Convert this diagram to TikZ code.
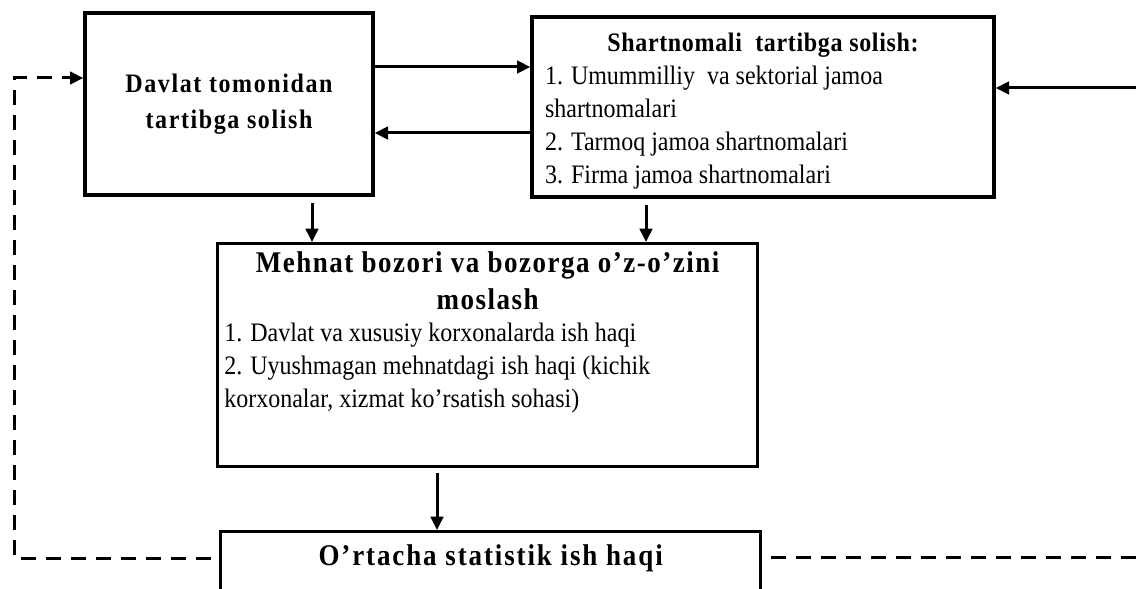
\documentclass[tikz,border=0pt]{standalone}
\usepackage{fontspec}
\setmainfont{Liberation Serif}[FakeStretch=0.9]
\usetikzlibrary{
  arrows.meta,
  positioning,
  calc
}

\begin{document}
\begin{tikzpicture}[
      x=0.6pt, y=-0.6pt,
      blok/.style={draw, line width=2pt, inner sep=0pt, align=center, font=\fontsize{16}{19.8}\selectfont},
      sarlavha/.style={font=\fontsize{16}{21.6}\selectfont\bfseries\addfontfeature{LetterSpace=#1}},
      strelka/.style={-{Triangle[length=8pt,width=7.5pt]}, line width=1.8pt},
      punktir/.style={line width=1.8pt, dash pattern=on 9pt off 6pt}
  ]
    \useasboundingbox (0,0) rectangle (1136,589);
    \clip (0,0) rectangle (1136,589);

    % Bloklar
    \node [blok, minimum width=172.8pt, minimum height=109.2pt, sarlavha=6] (davlat) at (229,104)
      {Davlat tomonidan\\tartibga solish};
    \node [blok, minimum width=277.2pt, minimum height=108pt] (shart) at (763,107)
      {\parbox{261.6pt}{\vspace*{4.8pt}{\centering\bfseries\addfontfeature{LetterSpace=2.5}Shartnomali\ \ tartibga solish:\par}
       \raggedright 1. Umummilliy\ \ va sektorial jamoa\\shartnomalari\\2. Tarmoq jamoa shartnomalari\\3. Firma jamoa shartnomalari}};
    \node [blok, anchor=north west] (bozor) at (216,242)
      {\parbox[c][133.8pt][t]{324pt}{\vspace*{5pt}{\centering\fontsize{18}{22.2}\selectfont\bfseries\addfontfeature{LetterSpace=5}Mehnat bozori va bozorga o’z-o’zini\\moslash\par}
       \vspace*{-1pt}\hspace*{4pt}\parbox[t]{318pt}{\raggedright 1. Davlat va xususiy korxonalarda ish haqi\\2. Uyushmagan mehnatdagi ish haqi (kichik\\korxonalar, xizmat ko’rsatish sohasi)}}};
    \node [blok, anchor=north west] (ortacha) at (219,530)
      {\parbox[c][70pt][t]{324pt}{\vspace*{8pt}\centering\fontsize{18}{21.6}\selectfont\bfseries\addfontfeature{LetterSpace=6.3}O’rtacha statistik ish haqi}};

    % Yordamchi nuqtalar
    \coordinate (y1) at (0,67);
    \coordinate (y2) at (0,133);
    \coordinate (kirish) at (1136,88);
    \coordinate (x1) at (312,0);
    \coordinate (x2) at (646,0);
    \coordinate (x3) at (437,0);
    \coordinate (p1) at (14,558);
    \coordinate (p2) at (14,78);
    \coordinate (chiqish) at (1136,557);

    \draw [strelka] (davlat.east |- y1) -- (shart.west |- y1);
    \draw [strelka] (shart.west |- y2) -- (davlat.east |- y2);
    \draw [strelka] (kirish) -- (shart.east |- kirish);

    \draw [strelka, shorten <=4pt] (davlat.south -| x1) -- (bozor.north -| x1);
    \draw [strelka, shorten <=4pt] (shart.south -| x2) -- (bozor.north -| x2);
    \draw [strelka, shorten <=3pt] (bozor.south -| x3) -- (ortacha.north -| x3);

    % Qaytar aloqa
    \draw [punktir, shorten <=5pt, -{Triangle[length=8pt,width=7.5pt]}] (ortacha.west |- p1) -- (p1) -- (p2) -- (davlat.west |- p2);
    \draw [punktir, shorten <=5pt] (ortacha.east |- chiqish) -- (chiqish);
  \end{tikzpicture}
\end{document}
